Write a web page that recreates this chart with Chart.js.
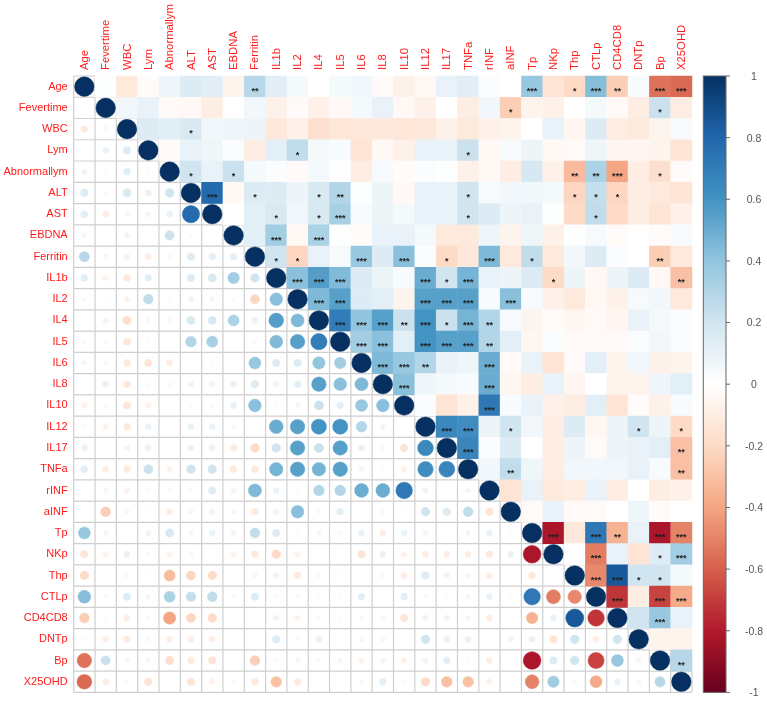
<!DOCTYPE html>
<html>
<head>
<meta charset="utf-8">
<script src="https://cdn.jsdelivr.net/npm/chart.js@4.4.1/dist/chart.umd.min.js"></script>
<style>
  html, body { margin: 0; padding: 0; background: #ffffff; }
  #wrap { width: 767px; height: 705px; position: relative; }
</style>
</head>
<body>
<div id="wrap"><canvas id="c" width="767" height="705"></canvas></div>
<script>
const variables = ["Age","Fevertime","WBC","Lym","Abnormallym","ALT","AST","EBDNA","Ferritin","IL1b","IL2","IL4","IL5","IL6","IL8","IL10","IL12","IL17","TNFa","rINF","aINF","Tp","NKp","Thp","CTLp","CD4CD8","DNTp","Bp","X25OHD"];

// Upper-triangle correlations: row i holds r(i, j) for j = i+1 .. 28
const corrRows = [
  [0.01,-0.12,-0.02,0.07,0.15,0.13,-0.06,0.28,0.13,0.05,0.00,0.05,0.06,-0.03,-0.08,-0.04,0.10,0.13,0.02,0.00,0.38,-0.15,-0.20,0.43,-0.25,0.03,-0.55,-0.57],
  [0.06,0.10,-0.03,-0.04,-0.10,0.00,0.06,-0.08,-0.03,-0.08,-0.04,0.05,0.10,-0.04,-0.08,0.00,-0.10,0.06,-0.25,-0.06,-0.08,0.00,0.05,-0.03,-0.10,0.22,-0.10],
  [0.15,0.13,0.17,0.06,0.07,0.08,-0.13,-0.08,-0.17,-0.14,-0.13,-0.13,-0.14,-0.13,-0.08,-0.12,-0.08,-0.06,0.00,0.10,-0.05,0.15,-0.10,-0.12,-0.06,0.04],
  [-0.03,0.10,0.07,0.02,-0.10,0.12,0.25,0.05,0.03,-0.15,-0.04,-0.08,0.10,0.10,0.22,-0.04,0.03,0.08,-0.04,-0.03,0.07,-0.05,-0.05,-0.06,-0.15],
  [0.20,0.10,0.22,0.05,0.02,-0.03,0.05,0.01,-0.10,0.04,-0.02,0.02,0.01,-0.08,-0.04,-0.10,0.18,-0.08,-0.32,0.32,-0.40,-0.10,-0.18,-0.02],
  [0.78,-0.04,0.15,0.15,0.08,0.17,0.30,0.01,0.08,-0.04,0.10,0.10,0.20,0.04,0.06,0.06,0.05,-0.22,0.24,-0.22,-0.10,-0.12,-0.15],
  [0.00,0.12,0.17,0.06,0.17,0.33,0.03,0.08,0.05,0.10,0.10,0.20,0.15,0.08,0.10,0.01,-0.20,0.25,-0.20,-0.10,-0.15,-0.08],
  [0.12,0.35,-0.04,0.32,0.01,-0.02,0.10,0.10,0.05,-0.12,-0.12,0.07,-0.06,0.07,-0.08,0.01,0.04,-0.02,0.00,-0.02,0.03],
  [0.20,-0.22,0.10,0.04,0.38,0.15,0.42,0.02,-0.20,-0.13,0.45,-0.12,0.25,-0.12,0.06,0.15,0.02,0.00,-0.25,-0.12],
  [0.42,0.56,0.44,0.15,0.08,0.03,0.50,0.20,0.47,0.10,0.08,0.15,-0.20,0.08,-0.04,0.08,0.15,-0.04,-0.30],
  [0.45,0.55,0.15,0.12,-0.06,0.55,0.55,0.55,0.03,0.42,0.03,-0.08,-0.12,-0.04,-0.08,0.04,0.06,-0.12],
  [0.70,0.40,0.55,0.22,0.60,0.22,0.47,0.30,0.04,-0.06,-0.02,-0.05,-0.03,-0.05,0.10,0.05,0.02],
  [0.35,0.42,0.12,0.60,0.55,0.55,0.30,0.12,-0.05,0.02,-0.03,-0.03,-0.03,0.02,0.06,0.02],
  [0.45,0.38,0.30,0.10,0.07,0.50,-0.03,0.10,-0.15,-0.03,0.12,-0.06,0.06,-0.08,-0.06],
  [0.42,0.07,0.05,0.03,0.50,-0.05,-0.10,0.10,-0.05,0.00,-0.06,-0.06,0.07,0.12],
  [0.02,-0.15,-0.08,0.72,0.03,0.10,-0.08,-0.10,0.12,-0.15,-0.02,-0.08,0.03],
  [0.65,0.62,0.08,0.20,0.06,-0.10,0.15,-0.05,0.08,0.20,0.08,-0.20],
  [0.66,0.02,0.15,0.00,-0.10,0.08,-0.03,0.08,0.10,0.12,-0.30],
  [0.06,0.25,0.07,-0.10,0.06,0.06,0.06,0.10,0.03,-0.30],
  [-0.15,0.10,-0.12,-0.10,0.10,-0.10,0.00,-0.10,-0.08],
  [-0.03,0.10,-0.03,-0.03,0.00,0.07,-0.02,0.00],
  [-0.82,-0.13,0.72,-0.35,0.10,-0.82,-0.50],
  [0.00,-0.52,0.10,-0.15,0.15,0.35],
  [-0.48,0.85,0.20,0.20,0.05],
  [-0.72,-0.10,-0.68,-0.38],
  [0.20,0.38,0.10],
  [-0.06,-0.06],
  [0.28],
  []
];

// Significance marks in the upper triangle: [row, column, label]
const significance = [
  [0,8,"**"],[0,21,"***"],[0,23,"*"],[0,24,"***"],[0,25,"**"],[0,27,"***"],[0,28,"***"],
  [1,20,"*"],[1,27,"*"],
  [2,5,"*"],
  [3,10,"*"],[3,18,"*"],
  [4,5,"*"],[4,7,"*"],[4,23,"**"],[4,24,"**"],[4,25,"***"],[4,27,"*"],
  [5,6,"***"],[5,8,"*"],[5,11,"*"],[5,12,"**"],[5,18,"*"],[5,23,"*"],[5,24,"*"],[5,25,"*"],
  [6,9,"*"],[6,11,"*"],[6,12,"***"],[6,18,"*"],[6,24,"*"],
  [7,9,"***"],[7,11,"***"],
  [8,9,"*"],[8,10,"*"],[8,13,"***"],[8,15,"***"],[8,17,"*"],[8,19,"***"],[8,21,"*"],[8,27,"**"],
  [9,10,"***"],[9,11,"***"],[9,12,"***"],[9,16,"***"],[9,17,"*"],[9,18,"***"],[9,22,"*"],[9,28,"**"],
  [10,11,"***"],[10,12,"***"],[10,16,"***"],[10,17,"***"],[10,18,"***"],[10,20,"***"],
  [11,12,"***"],[11,13,"***"],[11,14,"***"],[11,15,"**"],[11,16,"***"],[11,17,"*"],[11,18,"***"],[11,19,"**"],
  [12,13,"***"],[12,14,"***"],[12,16,"***"],[12,17,"***"],[12,18,"***"],[12,19,"**"],
  [13,14,"***"],[13,15,"***"],[13,16,"**"],[13,19,"***"],
  [14,15,"***"],[14,19,"***"],
  [15,19,"***"],
  [16,17,"***"],[16,18,"***"],[16,20,"*"],[16,26,"*"],[16,28,"*"],
  [17,18,"***"],[17,28,"**"],
  [18,20,"**"],[18,28,"**"],
  [21,22,"***"],[21,24,"***"],[21,25,"**"],[21,27,"***"],[21,28,"***"],
  [22,24,"***"],[22,27,"*"],[22,28,"***"],
  [23,24,"***"],[23,25,"***"],[23,26,"*"],[23,27,"*"],
  [24,25,"***"],[24,27,"***"],[24,28,"***"],
  [25,27,"***"],
  [27,28,"**"]
];

const colorbarTicks = [1,0.8,0.6,0.4,0.2,0,-0.2,-0.4,-0.6,-0.8,-1];
const paletteStops = ["#67001F","#B2182B","#D6604D","#F4A582","#FDDBC7","#FFFFFF","#D1E5F0","#92C5DE","#4393C3","#2166AC","#053061"];

function hexToRgb(h) {
  return [parseInt(h.slice(1,3),16), parseInt(h.slice(3,5),16), parseInt(h.slice(5,7),16)];
}
const stopRgb = paletteStops.map(hexToRgb);
function colorFor(v) {
  const t = Math.max(0, Math.min(10, (v + 1) / 2 * 10));
  const i = Math.min(9, Math.floor(t));
  const f = t - i;
  const a = stopRgb[i], b = stopRgb[i + 1];
  const c = a.map((x, k) => Math.round(x + (b[k] - x) * f));
  return `rgb(${c[0]},${c[1]},${c[2]})`;
}

function corrAt(i, j) {
  if (i === j) return 1;
  return i < j ? corrRows[i][j - i - 1] : corrRows[j][i - j - 1];
}

const upperData = [];
const lowerData = [];
for (let i = 0; i < variables.length; i++) {
  for (let j = 0; j < variables.length; j++) {
    const pt = { x: variables[j], y: variables[i], v: corrAt(i, j) };
    if (j > i) upperData.push(pt); else lowerData.push(pt);
  }
}

function cellSize(chart) {
  const xs = chart.scales.x, ys = chart.scales.y;
  return {
    w: Math.abs(xs.getPixelForValue(1) - xs.getPixelForValue(0)),
    h: Math.abs(ys.getPixelForValue(1) - ys.getPixelForValue(0))
  };
}

const gridPlugin = {
  id: 'lowerGrid',
  beforeDatasetsDraw(chart) {
    const xs = chart.scales.x, ys = chart.scales.y, n = variables.length;
    const ctx = chart.ctx;
    const bx = k => xs.getPixelForValue(k - 0.5);
    const by = k => ys.getPixelForValue(k - 0.5);
    ctx.save();
    ctx.strokeStyle = '#cfcfcf';
    ctx.lineWidth = 1.2;
    ctx.beginPath();
    for (let k = 0; k <= n; k++) {
      ctx.moveTo(bx(0), by(k));
      ctx.lineTo(bx(Math.min(k + 1, n)), by(k));
      ctx.moveTo(bx(k), by(Math.max(k - 1, 0)));
      ctx.lineTo(bx(k), by(n));
    }
    ctx.stroke();
    ctx.restore();
  }
};

const starPlugin = {
  id: 'stars',
  afterDatasetsDraw(chart) {
    const xs = chart.scales.x, ys = chart.scales.y, ctx = chart.ctx;
    const fs = 9;
    ctx.save();
    ctx.fillStyle = '#1e1e1e';
    ctx.font = `bold ${fs}px "Liberation Sans", Arial, sans-serif`;
    ctx.textAlign = 'center';
    ctx.textBaseline = 'alphabetic';
    significance.forEach(([i, j, s]) => {
      const x = xs.getPixelForValue(j);
      const y = ys.getPixelForValue(i);
      ctx.fillText(s, x, y + 2 + 0.57 * fs);
    });
    ctx.restore();
  }
};

const colorbarPlugin = {
  id: 'colorbar',
  afterDraw(chart) {
    const cb = chart.scales.cb, area = chart.chartArea, ctx = chart.ctx;
    const left = area.right + 11.3, right = area.right + 34;
    const top = cb.getPixelForValue(1), bottom = cb.getPixelForValue(-1);
    ctx.save();
    const g = ctx.createLinearGradient(0, bottom, 0, top);
    paletteStops.forEach((c, k) => g.addColorStop(k / (paletteStops.length - 1), c));
    ctx.fillStyle = g;
    ctx.fillRect(left, top, right - left, bottom - top);
    ctx.strokeStyle = '#666666';
    ctx.lineWidth = 1;
    ctx.strokeRect(left, top, right - left, bottom - top);
    ctx.fillStyle = '#555555';
    ctx.font = '10.5px "Liberation Sans", Arial, sans-serif';
    ctx.textAlign = 'center';
    ctx.textBaseline = 'middle';
    colorbarTicks.forEach(v => {
      const y = cb.getPixelForValue(v);
      ctx.beginPath();
      ctx.moveTo(right, y);
      ctx.lineTo(right + 4, y);
      ctx.stroke();
      ctx.fillText(String(v), area.right + 62, y + 1);
    });
    ctx.restore();
  }
};

const labelFont = { family: '"Liberation Sans", Arial, sans-serif', size: 11.3 };

new Chart(document.getElementById('c'), {
  type: 'scatter',
  data: {
    datasets: [
      {
        label: 'lower',
        data: lowerData,
        xAxisID: 'x', yAxisID: 'y',
        pointStyle: 'circle',
        pointRadius: ctx => {
          const c = cellSize(ctx.chart);
          return Math.sqrt(Math.abs(ctx.raw.v)) * Math.min(c.w, c.h) * 0.46;
        },
        pointBackgroundColor: ctx => colorFor(ctx.raw.v),
        pointBorderColor: ctx => colorFor(ctx.raw.v),
        pointBorderWidth: 0.5
      },
      {
        label: 'upper',
        data: upperData,
        xAxisID: 'x', yAxisID: 'y',
        pointStyle: 'rect',
        pointRadius: ctx => {
          const c = cellSize(ctx.chart);
          return (Math.max(c.w, c.h) + 0.5) / Math.SQRT2;
        },
        pointBackgroundColor: ctx => colorFor(ctx.raw.v),
        pointBorderWidth: 0
      }
    ]
  },
  options: {
    responsive: false,
    animation: false,
    events: [],
    layout: { padding: { left: 0, top: 0, right: 75, bottom: 9 } },
    plugins: { legend: { display: false }, tooltip: { enabled: false } },
    scales: {
      x: {
        type: 'category',
        labels: variables,
        position: 'top',
        offset: true,
        grid: { display: false, drawTicks: false },
        border: { display: false },
        ticks: { color: '#ff1a1a', font: labelFont, padding: 6, autoSkip: false, minRotation: 90, maxRotation: 90, labelOffset: 14 },
        afterFit: s => { s.height = 76; }
      },
      y: {
        type: 'category',
        labels: variables,
        position: 'left',
        offset: true,
        grid: { display: false, drawTicks: false },
        border: { display: false },
        ticks: { color: '#ff1a1a', font: { family: labelFont.family, size: 11 }, padding: 6, autoSkip: false },
        afterFit: s => { s.width = 73.7; }
      },
      cb: {
        type: 'linear',
        position: 'right',
        display: false,
        min: -1,
        max: 1
      }
    }
  },
  plugins: [gridPlugin, starPlugin, colorbarPlugin]
});
</script>
</body>
</html>
